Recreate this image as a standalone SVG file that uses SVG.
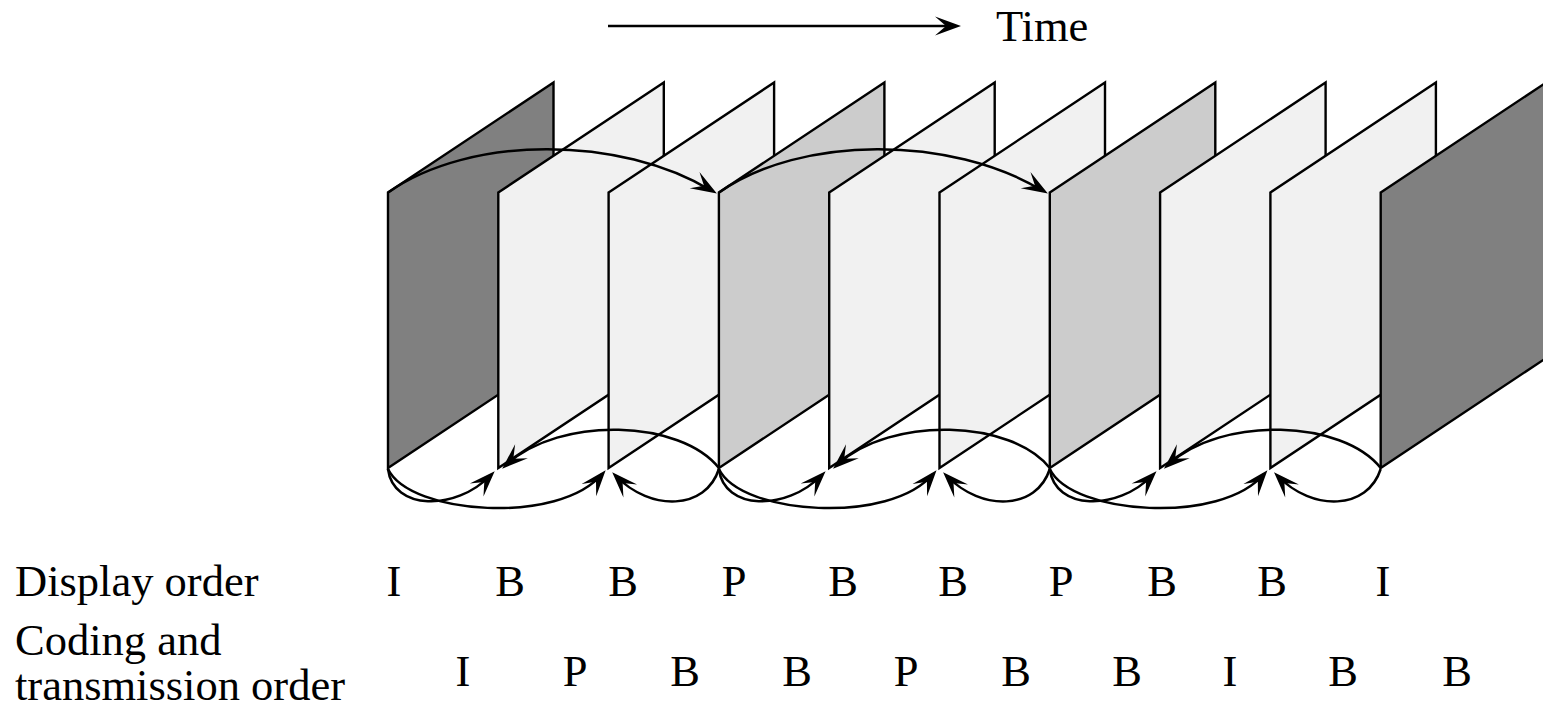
<svg xmlns="http://www.w3.org/2000/svg" xmlns:xlink="http://www.w3.org/1999/xlink" width="1543" height="707" viewBox="0 0 1543 707">
<style>
.fr{stroke:#000;stroke-width:2.4;stroke-linejoin:miter}
.I{fill:#808080}.B{fill:#f1f1f1}.P{fill:#cccccc}
.arc{fill:none;stroke:#000;stroke-width:2.5}
.t{font-family:"Liberation Serif","Times New Roman",serif;font-size:44.5px;fill:#000}
.c{text-anchor:middle}
</style>
<defs>
<path id="ah" d="M1,0 L-25,-9.5 L-14,0 L-25,9.5 Z" fill="#000"/>
</defs>
<rect width="1543" height="707" fill="#fff"/>
<g id="frames">
<g id="f1"><polygon class="fr I" points="388,192.5 553.5,82.5 553.5,358 388,468"/></g>
<g id="f2"><polygon class="fr B" points="498.3,192.5 663.8,82.5 663.8,358 498.3,468"/></g>
<g id="f3"><polygon class="fr B" points="608.6,192.5 774.1,82.5 774.1,358 608.6,468"/></g>
<g id="f4"><polygon class="fr P" points="718.9,192.5 884.4,82.5 884.4,358 718.9,468"/></g>
<g id="f5"><polygon class="fr B" points="829.2,192.5 994.7,82.5 994.7,358 829.2,468"/></g>
<g id="f6"><polygon class="fr B" points="939.5,192.5 1105,82.5 1105,358 939.5,468"/></g>
<g id="f7"><polygon class="fr P" points="1049.8,192.5 1215.3,82.5 1215.3,358 1049.8,468"/></g>
<g id="f8"><polygon class="fr B" points="1160.1,192.5 1325.6,82.5 1325.6,358 1160.1,468"/></g>
<g id="f9"><polygon class="fr B" points="1270.4,192.5 1435.9,82.5 1435.9,358 1270.4,468"/></g>
<g id="f10"><polygon class="fr I" points="1380.7,192.5 1546.2,82.5 1546.2,358 1380.7,468"/></g>
</g>
<g id="connectors">
<line x1="608" y1="26" x2="950" y2="26" stroke="#000" stroke-width="2.5"/>
<use xlink:href="#ah" href="#ah" transform="translate(960,26)"/>
<path class="arc" d="M388,192.5 C470,135 620,135 712,191"/>
<use xlink:href="#ah" href="#ah" transform="translate(716,193) rotate(31)"/>
<path class="arc" d="M719,192.5 C801,135 951,135 1043,191"/>
<use xlink:href="#ah" href="#ah" transform="translate(1047,193) rotate(31)"/>
<g>
<path class="arc" d="M388,469 C393,510 455,512 491,475"/>
<use xlink:href="#ah" href="#ah" transform="translate(494,472) rotate(-46)"/>
<path class="arc" d="M388,469 C410,515 560,525 602,474"/>
<use xlink:href="#ah" href="#ah" transform="translate(605,471) rotate(-50)"/>
</g>
<g transform="translate(330.9,0)">
<path class="arc" d="M388,469 C393,510 455,512 491,475"/>
<use xlink:href="#ah" href="#ah" transform="translate(494,472) rotate(-46)"/>
<path class="arc" d="M388,469 C410,515 560,525 602,474"/>
<use xlink:href="#ah" href="#ah" transform="translate(605,471) rotate(-50)"/>
<path class="arc" d="M388,469 C375,510 320,512 285,476"/>
<use xlink:href="#ah" href="#ah" transform="translate(282,473) rotate(-134)"/>
<path class="arc" d="M388,468 C350,420 230,415 175,465"/>
<use xlink:href="#ah" href="#ah" transform="translate(172,468) rotate(138)"/>
</g>
<g transform="translate(661.8,0)">
<path class="arc" d="M388,469 C393,510 455,512 491,475"/>
<use xlink:href="#ah" href="#ah" transform="translate(494,472) rotate(-46)"/>
<path class="arc" d="M388,469 C410,515 560,525 602,474"/>
<use xlink:href="#ah" href="#ah" transform="translate(605,471) rotate(-50)"/>
<path class="arc" d="M388,469 C375,510 320,512 285,476"/>
<use xlink:href="#ah" href="#ah" transform="translate(282,473) rotate(-134)"/>
<path class="arc" d="M388,468 C350,420 230,415 175,465"/>
<use xlink:href="#ah" href="#ah" transform="translate(172,468) rotate(138)"/>
</g>
<g transform="translate(992.7,0)">
<path class="arc" d="M388,469 C375,510 320,512 285,476"/>
<use xlink:href="#ah" href="#ah" transform="translate(282,473) rotate(-134)"/>
<path class="arc" d="M388,468 C350,420 230,415 175,465"/>
<use xlink:href="#ah" href="#ah" transform="translate(172,468) rotate(138)"/>
</g>
</g>
<g id="labels">
<text class="t" x="996" y="41">Time</text>
<text class="t" x="15" y="596">Display order</text>
<text class="t" x="15" y="655">Coding and</text>
<text class="t" x="15" y="700">transmission order</text>
<g class="t c">
<text x="394" y="596">I</text><text x="510" y="596">B</text><text x="623" y="596">B</text><text x="734" y="596">P</text><text x="843" y="596">B</text><text x="953" y="596">B</text><text x="1061" y="596">P</text><text x="1162" y="596">B</text><text x="1272" y="596">B</text><text x="1383" y="596">I</text>
<text x="463" y="686">I</text><text x="575" y="686">P</text><text x="685" y="686">B</text><text x="797" y="686">B</text><text x="906" y="686">P</text><text x="1016" y="686">B</text><text x="1127" y="686">B</text><text x="1230" y="686">I</text><text x="1343" y="686">B</text><text x="1457" y="686">B</text>
</g>
</g>
</svg>
